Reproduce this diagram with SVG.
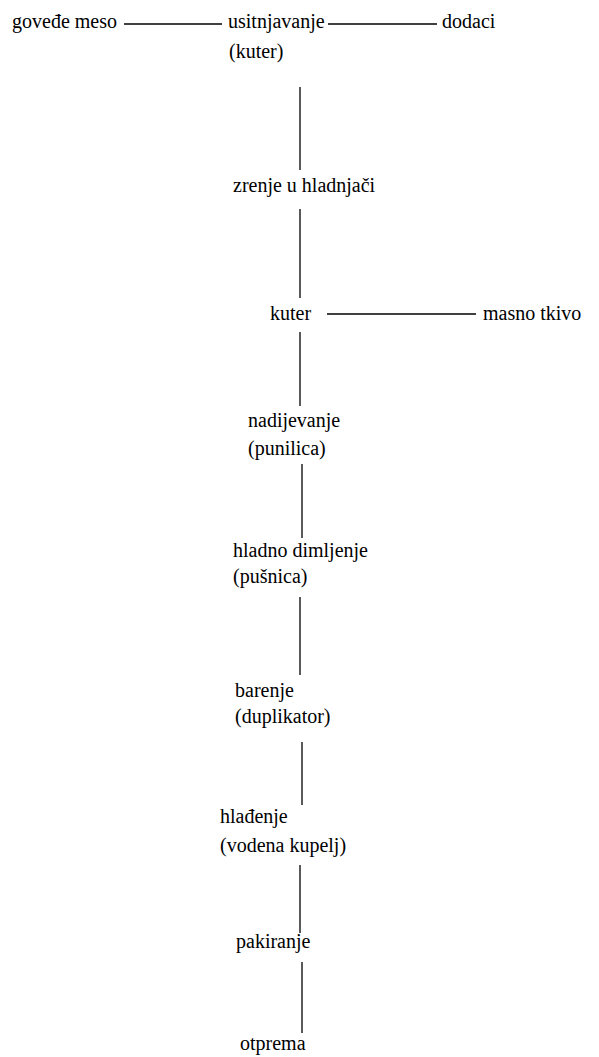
<svg xmlns="http://www.w3.org/2000/svg" width="599" height="1057" viewBox="0 0 599 1057">
<rect width="599" height="1057" fill="#fff"/>
<g id="connectors" stroke="#000" stroke-width="1.3">
<line x1="124" y1="24" x2="222" y2="24"/>
<line x1="328" y1="24" x2="437" y2="24"/>
<line x1="300" y1="87" x2="300" y2="170"/>
<line x1="300" y1="209" x2="300" y2="298"/>
<line x1="327" y1="314" x2="476" y2="314"/>
<line x1="300" y1="332" x2="300" y2="406"/>
<line x1="302" y1="464" x2="302" y2="538"/>
<line x1="300" y1="597" x2="300" y2="675"/>
<line x1="302" y1="742" x2="302" y2="805"/>
<line x1="300" y1="865" x2="300" y2="933"/>
<line x1="302" y1="962" x2="302" y2="1033"/>
</g>
<g id="nodes" font-family="Liberation Serif" font-size="20" fill="#000">
<g id="n-govede"><text x="12" y="28">gove&#273;e meso</text></g>
<g id="n-usitnjavanje"><text x="228" y="28">usitnjavanje</text><text x="229" y="58">(kuter)</text></g>
<g id="n-dodaci"><text x="442" y="28">dodaci</text></g>
<g id="n-zrenje"><text x="233" y="192">zrenje u hladnja&#269;i</text></g>
<g id="n-kuter"><text x="270" y="320">kuter</text></g>
<g id="n-masno"><text x="483" y="320">masno tkivo</text></g>
<g id="n-nadijevanje"><text x="248" y="427">nadijevanje</text><text x="248" y="455">(punilica)</text></g>
<g id="n-dimljenje"><text x="233" y="557">hladno dimljenje</text><text x="233" y="583">(pu&#353;nica)</text></g>
<g id="n-barenje"><text x="235" y="697">barenje</text><text x="235" y="723">(duplikator)</text></g>
<g id="n-hladenje"><text x="220" y="823">hla&#273;enje</text><text x="220" y="852">(vodena kupelj)</text></g>
<g id="n-pakiranje"><text x="236" y="948">pakiranje</text></g>
<g id="n-otprema"><text x="240" y="1050">otprema</text></g>
</g>
</svg>
